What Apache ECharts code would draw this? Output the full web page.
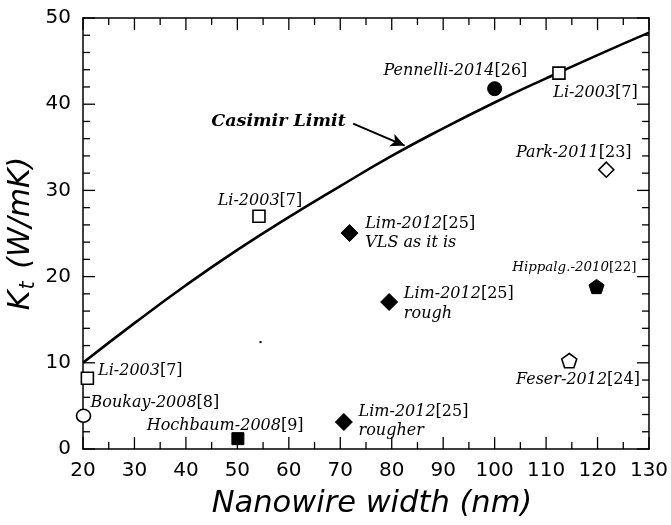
<!DOCTYPE html>
<html>
<head>
<meta charset="utf-8">
<script src="https://cdn.jsdelivr.net/npm/echarts@6/dist/echarts.min.js"></script>
<style>html,body{margin:0;padding:0;background:#fff}#c{width:671px;height:525px}</style>
</head>
<body>
<div id="c"></div>
<script>
// ---- data ----
const xTicks = [20, 30, 40, 50, 60, 70, 80, 90, 100, 110, 120, 130];
const yTicks = [0, 10, 20, 30, 40, 50];
const xMinorStep = 5;
const yMinorStep = 2;
const casimirX = [20, 30, 40, 50, 60, 70, 80, 90, 100, 110, 120, 130];
const casimirY = [10, 14.6, 19.0, 23.1, 26.9, 30.5, 34.0, 37.2, 40.2, 43.0, 45.7, 48.3];
const liX = [20.85, 54.2, 112.5];
const liY = [8.2, 27.0, 43.6];
const boukayX = [20.1], boukayY = [3.85];
const hochbaumX = [50.1], hochbaumY = [1.2];
const pennelliX = [100.0], pennelliY = [41.8];
const parkX = [121.7], parkY = [32.4];
const limX = [71.8, 79.5, 70.7];
const limY = [25.05, 17.05, 3.13];
const hippalgX = [119.8], hippalgY = [18.85];
const feserX = [114.5], feserY = [10.25];
const strayX = [54.5], strayY = [12.4];
const liNames = ['Li-2003|[7]', 'Li-2003|[7]', 'Li-2003|[7]'];
const limNames = ['Lim-2012|[25]|VLS as it is', 'Lim-2012|[25]|rough', 'Lim-2012|[25]|rougher'];
const casimirLabel = 'Casimir Limit';
const casimirLabelAt = [58.0, 38.0];
const arrowFrom = [72.5, 37.75];
const arrowTo = [82.5, 35.2];

// ---- helpers ----
const X0 = xTicks[0], X1 = xTicks[xTicks.length - 1];
const Y0 = yTicks[0], Y1 = yTicks[yTicks.length - 1];
const zip = (xs, ys) => xs.map((x, i) => [x, ys[i]]);
const FS = 16;
const SERIF = 'DejaVu Serif';
function richFor(fs) {
  return {
    i: { fontFamily: SERIF, fontStyle: 'italic', fontSize: fs, color: '#000', lineHeight: 19.5 },
    r: { fontFamily: SERIF, fontStyle: 'normal', fontSize: fs, color: '#000', lineHeight: 19.5 }
  };
}
function fmt(s) {
  const p = s.split('|');
  let out = '{i|' + p[0] + '}{r|' + p[1] + '}';
  if (p[2]) out += '\n{i|' + p[2] + '}';
  return out;
}
function lbl(off, align, fs) {
  return {
    show: true, position: 'inside', align: align, verticalAlign: 'middle',
    offset: off, rich: richFor(fs || FS), opacity: 1, color: '#000',
    formatter: p => fmt(p.data.name)
  };
}
function pts(xs, ys, names) {
  return xs.map((x, i) => ({ value: [x, ys[i]], name: names[i] }));
}
// tick items: [x, y, kind]  kind 0 = x major, 1 = x minor, 2 = y major, 3 = y minor
const tickData = [];
xTicks.forEach(v => tickData.push([v, Y0, 0]));
for (let i = 0; i < xTicks.length - 1; i++) {
  for (let v = xTicks[i] + xMinorStep; v < xTicks[i + 1] - 1e-9; v += xMinorStep) tickData.push([v, Y0, 1]);
}
yTicks.forEach(v => tickData.push([X0, v, 2]));
for (let i = 0; i < yTicks.length - 1; i++) {
  for (let v = yTicks[i] + yMinorStep; v < yTicks[i + 1] - 1e-9; v += yMinorStep) tickData.push([X0, v, 3]);
}
const MAJOR = 12, MINOR = 7;
const tickStyle = { stroke: '#000', lineWidth: 1.3 };
function renderTick(params, api) {
  const k = api.value(2);
  let a, b, len;
  if (k < 2) {
    const x = api.value(0);
    a = api.coord([x, Y0]); b = api.coord([x, Y1]); len = k === 0 ? MAJOR : MINOR;
    return { type: 'group', children: [
      { type: 'line', shape: { x1: a[0], y1: a[1], x2: a[0], y2: a[1] - len }, style: tickStyle },
      { type: 'line', shape: { x1: b[0], y1: b[1], x2: b[0], y2: b[1] + len }, style: tickStyle }
    ] };
  }
  const y = api.value(1);
  a = api.coord([X0, y]); b = api.coord([X1, y]); len = k === 2 ? MAJOR : MINOR;
  return { type: 'group', children: [
    { type: 'line', shape: { x1: a[0], y1: a[1], x2: a[0] + len, y2: a[1] }, style: tickStyle },
    { type: 'line', shape: { x1: b[0], y1: b[1], x2: b[0] - len, y2: b[1] }, style: tickStyle }
  ] };
}
const openStyle = { color: '#fff', borderColor: '#000', borderWidth: 1.6, opacity: 1 };
const fillStyle = { color: '#000', borderColor: '#000', borderWidth: 1, opacity: 1 };
const pentagon = 'path://M0,-1 L0.951,-0.309 L0.588,0.809 L-0.588,0.809 L-0.951,-0.309 Z';

const liLabelCfg = [
  { off: [10.7, -7], align: 'left' },
  { off: [1, -15.7], align: 'center' },
  { off: [-5.7, 19.7], align: 'left' }
];
const limLabelCfg = [
  { off: [15.7, 0.5], align: 'left' },
  { off: [14.7, 1.7], align: 'left' },
  { off: [14.7, -0.5], align: 'left' }
];

const chart = echarts.init(document.getElementById('c'), null, { renderer: 'canvas' });
function mkAxis(pos, range, interval, extra) {
  return Object.assign({
    type: 'value', position: pos, min: range[0], max: range[range.length - 1], interval: interval,
    axisLine: { show: true, onZero: false, lineStyle: { color: '#000', width: 1.5 } },
    splitLine: { show: false },
    axisTick: { show: false },
    minorTick: { show: false },
    axisLabel: { show: false }
  }, extra || {});
}
const option = {
  animation: false,
  backgroundColor: '#fff',
  grid: { left: 83, right: 22, top: 18, bottom: 76, containLabel: false, outerBoundsMode: 'none' },
  xAxis: [
    mkAxis('bottom', xTicks, 10, {
      axisLabel: { show: true, color: '#000', fontFamily: 'DejaVu Sans', fontSize: 20, margin: 12 },
      name: 'Nanowire width (nm)', nameLocation: 'middle', nameGap: 40,
      nameTextStyle: { fontFamily: 'DejaVu Sans', fontStyle: 'italic', fontSize: 30.5, color: '#000', padding: [0, 0, 0, 12] }
    }),
    mkAxis('top', xTicks, 10)
  ],
  yAxis: [
    mkAxis('left', yTicks, 10, {
      axisLabel: { show: true, color: '#000', fontFamily: 'DejaVu Sans', fontSize: 20, margin: 12 },
      name: '{a|K}{s|t}{a| (W/mK)}', nameLocation: 'middle', nameGap: 44, nameRotate: 90,
      nameMoveOverlap: false,
      nameTextStyle: {
        rich: {
          a: { fontFamily: 'DejaVu Sans', fontStyle: 'italic', fontSize: 30, color: '#000' },
          s: { fontFamily: 'DejaVu Sans', fontStyle: 'italic', fontSize: 21, color: '#000', padding: [14, 3, 0, 1] }
        }
      }
    }),
    mkAxis('right', yTicks, 10)
  ],
  series: [
    {
      type: 'custom', renderItem: renderTick, data: tickData, silent: true, z: 1,
      encode: { x: 0, y: 1 }
    },
    {
      type: 'line', smooth: true, showSymbol: false, symbol: 'none',
      data: zip(casimirX, casimirY),
      lineStyle: { color: '#000', width: 2.6 },
      markPoint: {
        symbol: 'circle', symbolSize: 0,
        data: [{ coord: casimirLabelAt, name: casimirLabel }],
        label: { show: true, position: 'inside', formatter: casimirLabel,
          fontFamily: SERIF, fontStyle: 'italic', fontWeight: 'bold', fontSize: 17.5, color: '#000' }
      },
      markLine: {
        silent: true, symbol: ['none', 'arrow'], symbolSize: [10, 14],
        lineStyle: { color: '#000', width: 2, type: 'solid' },
        label: { show: false },
        data: [[{ coord: arrowFrom }, { coord: arrowTo }]]
      },
      z: 2
    },
    {
      type: 'scatter', symbol: 'rect', symbolSize: 12, itemStyle: openStyle,
      data: pts(liX, liY, liNames).map((d, i) => Object.assign(d, { label: lbl(liLabelCfg[i].off, liLabelCfg[i].align) })),
      z: 5
    },
    {
      type: 'scatter', symbol: 'circle', symbolSize: [14, 13], itemStyle: openStyle,
      data: pts(boukayX, boukayY, ['Boukay-2008|[8]']), label: lbl([7, -12.7], 'left'), z: 5
    },
    {
      type: 'scatter', symbol: 'rect', symbolSize: 12, itemStyle: fillStyle,
      data: pts(hochbaumX, hochbaumY, ['Hochbaum-2008|[9]']), label: lbl([65.7, -13], 'right'), z: 5
    },
    {
      type: 'scatter', symbol: 'circle', symbolSize: 14, itemStyle: fillStyle,
      data: pts(pennelliX, pennelliY, ['Pennelli-2014|[26]']), label: lbl([32.7, -17.8], 'right'), z: 5
    },
    {
      type: 'scatter', symbol: 'diamond', symbolSize: [15, 15], itemStyle: openStyle,
      data: pts(parkX, parkY, ['Park-2011|[23]']), label: lbl([25.3, -17], 'right'), z: 5
    },
    {
      type: 'scatter', symbol: 'diamond', symbolSize: [17, 17], itemStyle: fillStyle,
      data: pts(limX, limY, limNames).map((d, i) => Object.assign(d, { label: lbl(limLabelCfg[i].off, limLabelCfg[i].align) })),
      z: 5
    },
    {
      type: 'scatter', symbol: pentagon, symbolKeepAspect: true, symbolSize: 15, itemStyle: fillStyle,
      data: pts(hippalgX, hippalgY, ['Hippalg.-2010|[22]']), label: lbl([40, -18.7], 'right', 13.4), z: 5
    },
    {
      type: 'scatter', symbol: pentagon, symbolKeepAspect: true, symbolSize: 15, itemStyle: openStyle,
      data: pts(feserX, feserY, ['Feser-2012|[24]']), label: lbl([70.7, 19], 'right'), z: 5
    },
    {
      type: 'scatter', symbol: 'rect', symbolSize: 2, itemStyle: { color: '#000', opacity: 1 },
      data: zip(strayX, strayY), z: 5
    }
  ]
};
chart.setOption(option);
</script>
</body>
</html>
